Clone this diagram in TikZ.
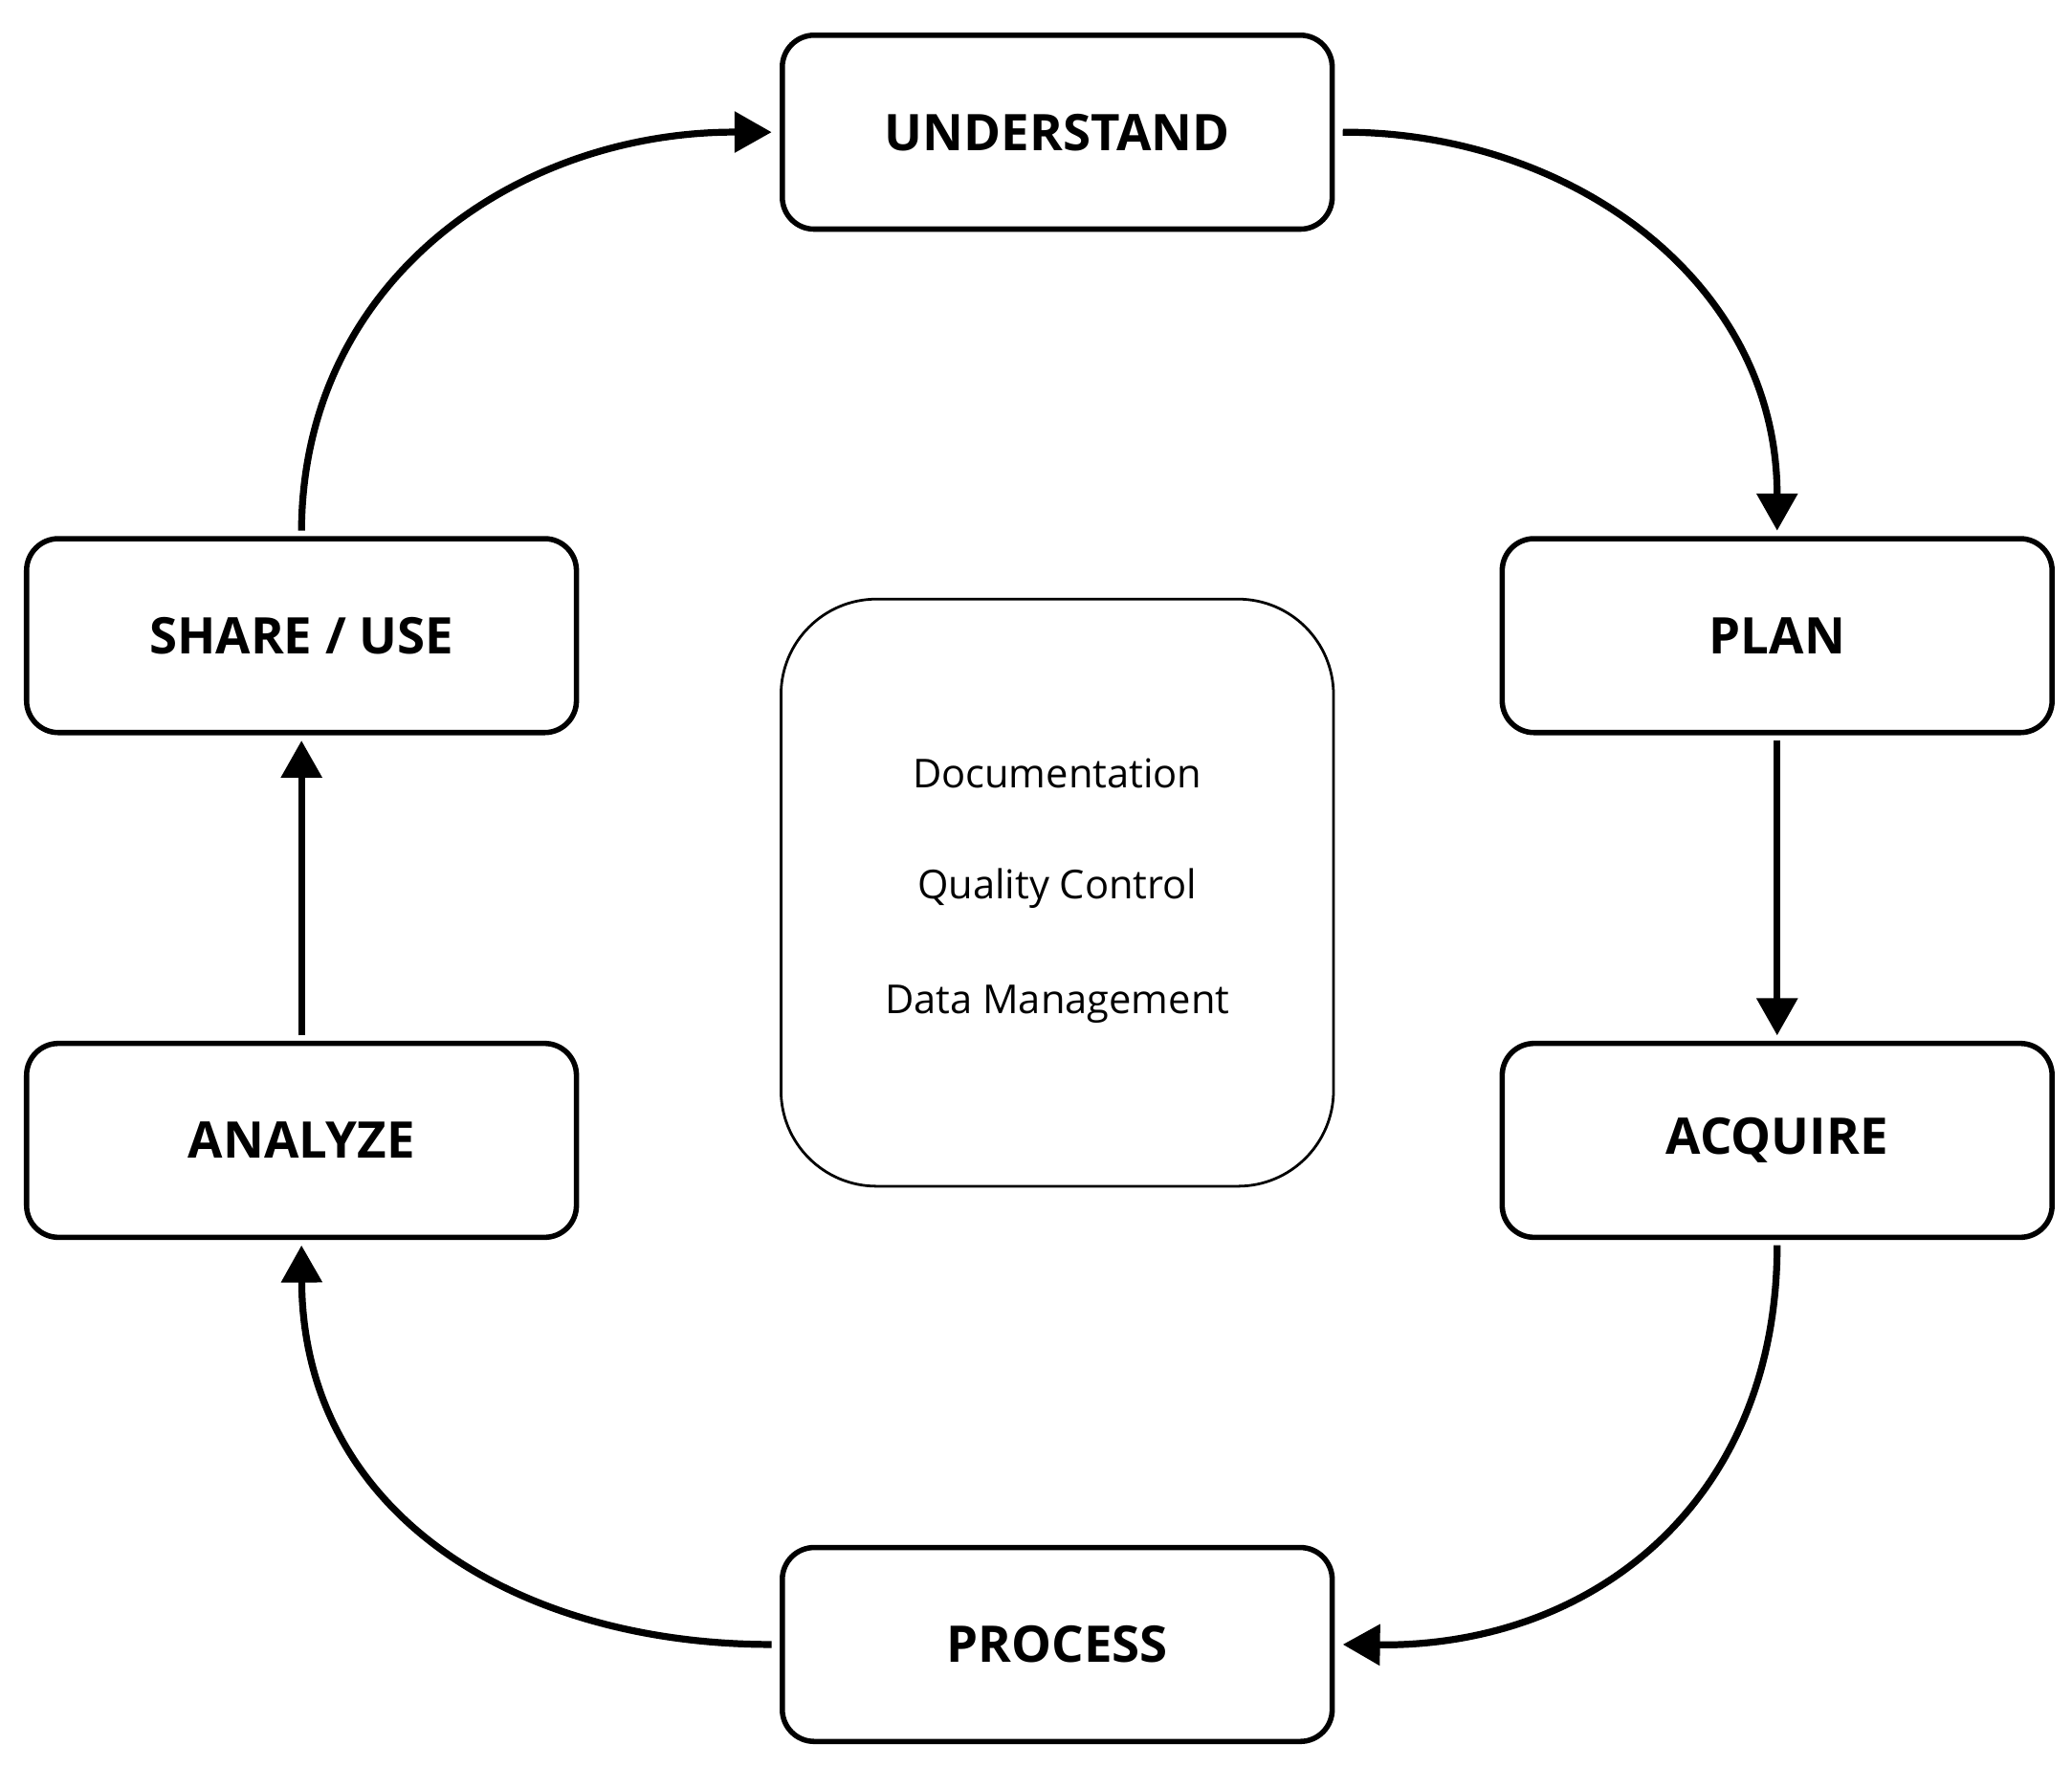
\documentclass[tikz,border=0pt]{standalone}
\usepackage{fontspec}
\setmainfont{Open Sans}
\usetikzlibrary{arrows.meta}
\begin{document}
\begin{tikzpicture}[x=0.5pt,y=-0.5pt,
  box/.style={draw,line width=2pt,rounded corners=12pt,minimum width=207pt,minimum height=73pt,font=\bfseries\fontsize{19}{22}\selectfont,inner sep=0pt},
  arr/.style={line width=2.6pt,-{Triangle[length=14pt,width=15pt]}}]
\useasboundingbox (0,0) rectangle (1560,1330);
\node[box] (und) at (796,99.5) {UNDERSTAND};
\node[box] (share) at (227,478.5) {SHARE / USE};
\node[box] (plan) at (1338,478.5) {PLAN};
\node[box] (ana) at (227,858.5) {ANALYZE};
\node[box] (acq) at (1338,858.5) {ACQUIRE};
\node[box] (proc) at (796,1238) {PROCESS};
\node[draw,line width=1pt,rounded corners=36pt,minimum width=208pt,minimum height=221pt,inner sep=0pt,align=center,font=\fontsize{15}{22}\selectfont] (mid) at (796,672) {};
\node[font=\fontsize{15}{18}\selectfont] (t1) at (796,582) {Documentation};
\node[font=\fontsize{15}{18}\selectfont] (t2) at (796,669) {Quality Control};
\node[font=\fontsize{15}{18}\selectfont] (t3) at (796,756) {Data Management};
\draw[arr] ([xshift=3pt]und.east) .. controls (1180,99) and (1338,210) .. ([yshift=2pt]plan.north);
\draw[arr] ([yshift=-2pt]plan.south) -- ([yshift=2pt]acq.north);
\draw[arr] ([yshift=-2pt]acq.south) .. controls (1338,1130) and (1200,1240) .. ([xshift=3pt]proc.east);
\draw[arr] ([xshift=-3pt]proc.west) .. controls (390,1238) and (228,1140) .. ([yshift=-2pt]ana.south);
\draw[arr] ([yshift=2pt]ana.north) -- ([yshift=-2pt]share.south);
\draw[arr] ([yshift=2pt]share.north) .. controls (228,210) and (390,99) .. ([xshift=-3pt]und.west);
\end{tikzpicture}
\end{document}
